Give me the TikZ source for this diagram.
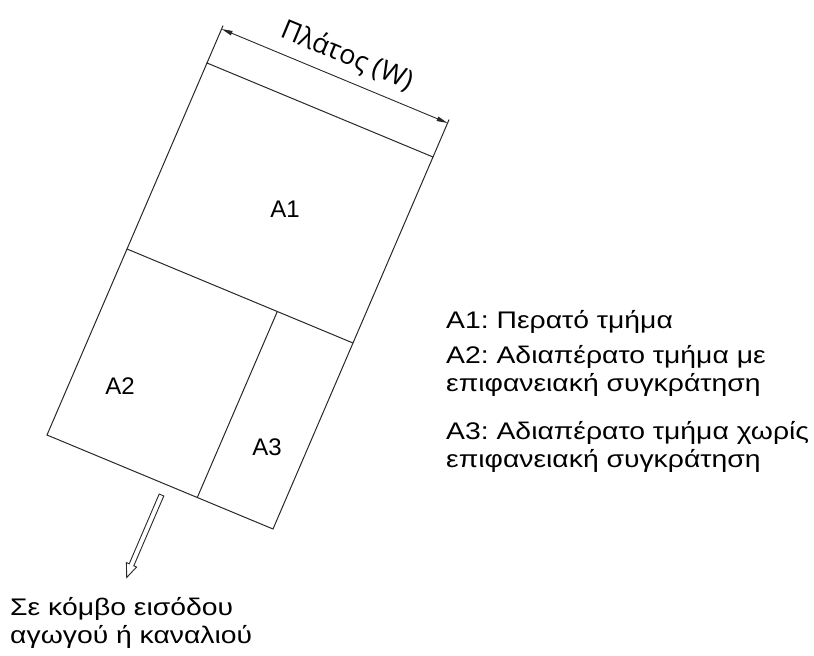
\documentclass[tikz,border=0pt]{standalone}
\usepackage{fontspec}
\setmainfont{Liberation Sans}
\newfontfamily\labelfont{Open Sans}
\usetikzlibrary{arrows.meta,calc}
\definecolor{ln}{RGB}{40,40,40}
\frenchspacing
\tikzset{
  edge/.style={draw=ln, line width=1pt},
  txt/.style={inner sep=0pt, font=\fontsize{24}{28}\selectfont, text=black},
  wtxt/.style={txt, xscale=1.18, anchor=west, align=left},
  dimarrow/.style={draw=ln, line width=0.9pt, {Triangle[length=11pt,width=4.5pt]}-{Triangle[length=11pt,width=4.5pt]}},
}
\begin{document}
\begin{tikzpicture}[x=1pt,y=-1pt]
\useasboundingbox (0,0) rectangle (814,656);
% corners
\coordinate (TL) at (207,63);
\coordinate (TR) at (433,157);
\coordinate (BL) at (47,435);
\coordinate (BR) at (273,529);
\coordinate (ML) at ($(TL)!0.5!(BL)$);
\coordinate (MR) at ($(TR)!0.5!(BR)$);
\coordinate (DT) at ($(ML)!0.665!(MR)$);
\coordinate (DB) at ($(BL)!0.665!(BR)$);
% rectangle
\draw[edge] (TL) -- (TR) -- (BR) -- (BL) -- cycle;
\draw[edge] (ML) -- (MR);
\draw[edge] (DT) -- (DB);
% dimension
\coordinate (EL) at (221.6,29.0);
\coordinate (ER) at (447.6,123.0);
\draw[edge] (TL) -- ($(TL)!1.1!(EL)$);
\draw[edge] (TR) -- ($(TR)!1.1!(ER)$);
\draw[dimarrow] (EL) -- (ER);
\node[inner sep=0pt, font=\labelfont\fontsize{27}{30}\selectfont, rotate=-22.6] (lab) at (347,56) {Πλάτος (W)};
% area labels
\node[txt] (a1) at (285,209) {A1};
\node[txt] (a2) at (120,386) {A2};
\node[txt] (a3) at (267,447) {A3};
% legend
\node[wtxt] (l1) at (446,322) {A1: Περατό τμήμα};
\node[wtxt] (l2) at (446,371) {A2: Αδιαπέρατο τμήμα με\\επιφανειακή συγκράτηση};
\node[wtxt] (l3) at (446,447) {A3: Αδιαπέρατο τμήμα χωρίς\\επιφανειακή συγκράτηση};
% outlet arrow
\draw[draw=ln, line width=0.9pt, line join=miter]
  (163.8,496.0) -- (133.8,565.8) -- (136.6,567.0) -- (126.7,577.5) -- (126.4,562.6) -- (129.2,563.8) -- (159.2,494.0) -- cycle;
\node[wtxt] (out) at (10,623) {Σε κόμβο εισόδου\\αγωγού ή καναλιού};
\end{tikzpicture}
\end{document}
